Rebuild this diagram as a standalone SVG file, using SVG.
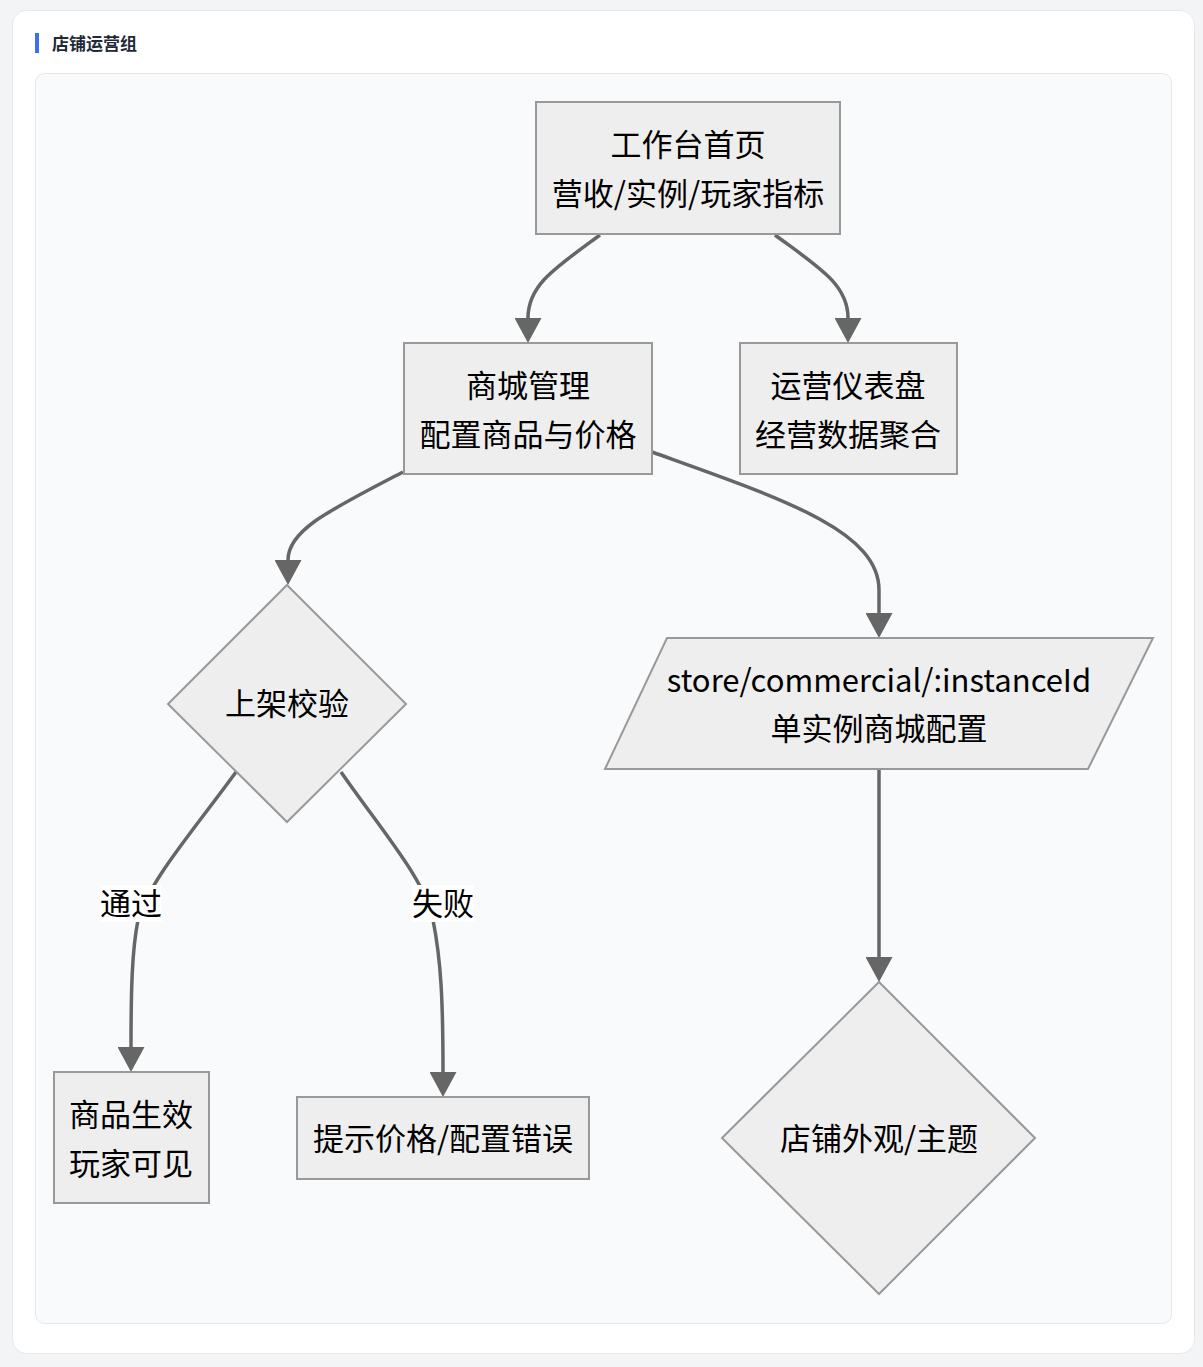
<svg xmlns="http://www.w3.org/2000/svg" width="1203" height="1367" viewBox="0 0 1203 1367">
<defs>
<style>
.node{fill:#eeeeee;stroke:#999999;stroke-width:2}
.t{font-family:"Noto Sans CJK SC","Liberation Sans",sans-serif;font-size:31px;fill:#000;text-anchor:middle}
.e{fill:none;stroke:#666666;stroke-width:3.5}
.lbl{fill:#ffffff}
</style>
<marker id="arr" viewBox="0 0 25 27" refX="0" refY="13.5" markerWidth="25" markerHeight="27" markerUnits="userSpaceOnUse" orient="auto">
<path d="M0,0 L25,13.5 L0,27 z" fill="#666666"/>
</marker>
</defs>
<rect x="0" y="0" width="1203" height="1367" fill="#f3f4f6"/>
<rect x="12.5" y="10.5" width="1182" height="1343" rx="14" fill="#ffffff" stroke="#e5e7eb"/>
<rect x="35" y="33" width="4" height="20" fill="#3b6ef5"/>
<text x="52" y="50" font-family="'Noto Sans CJK SC','Liberation Sans',sans-serif" font-size="17" font-weight="bold" fill="#1f2937">店铺运营组</text>
<rect x="35.5" y="73.5" width="1136" height="1250" rx="9" fill="#f9fafb" stroke="#e5e7eb"/>

<g id="edges">
<path class="e" d="M600,235 C555,268 528,285 528,318" marker-end="url(#arr)"/>
<path class="e" d="M775,235 C820,268 848,285 848,318" marker-end="url(#arr)"/>
<path class="e" d="M403,472 C330,510 288,530 288,560" marker-end="url(#arr)"/>
<path class="e" d="M652,452 C780,498 879,530 879,590 L879,613" marker-end="url(#arr)"/>
<path class="e" d="M236,772 C190,835 150,880 138,920 C132,950 131,990 131,1047" marker-end="url(#arr)"/>
<path class="e" d="M341,772 C385,835 425,880 433,920 C441,960 443,1000 443,1072" marker-end="url(#arr)"/>
<path class="e" d="M879,770 L879,957" marker-end="url(#arr)"/>
<rect class="lbl" x="100" y="885" width="62" height="37"/>
<text class="t" x="131" y="915">通过</text>
<rect class="lbl" x="412" y="885" width="62" height="37"/>
<text class="t" x="443" y="915">失败</text>
</g>

<g id="home">
<rect class="node" x="536" y="102" width="304" height="132"/>
<text class="t" x="688" y="156">工作台首页</text>
<text class="t" x="688" y="205">营收/实例/玩家指标</text>
</g>
<g id="mall">
<rect class="node" x="404" y="343" width="248" height="131"/>
<text class="t" x="528" y="397">商城管理</text>
<text class="t" x="528" y="446">配置商品与价格</text>
</g>
<g id="dashboard">
<rect class="node" x="740" y="343" width="217" height="131"/>
<text class="t" x="848" y="397">运营仪表盘</text>
<text class="t" x="848" y="446">经营数据聚合</text>
</g>
<g id="check">
<polygon class="node" points="287,585 406,704 287,822 168,704"/>
<text class="t" x="287" y="715">上架校验</text>
</g>
<g id="storeconfig">
<polygon class="node" points="667,638 1153,638 1088,769 605,769"/>
<text class="t" x="879" y="692">store/commercial/:instanceId</text>
<text class="t" x="879" y="740">单实例商城配置</text>
</g>
<g id="effective">
<rect class="node" x="54" y="1072" width="155" height="131"/>
<text class="t" x="131" y="1126">商品生效</text>
<text class="t" x="131" y="1175">玩家可见</text>
</g>
<g id="error">
<rect class="node" x="297" y="1097" width="292" height="82"/>
<text class="t" x="443" y="1150">提示价格/配置错误</text>
</g>
<g id="theme">
<polygon class="node" points="879,982 1035,1138 879,1294 722,1138"/>
<text class="t" x="879" y="1150">店铺外观/主题</text>
</g>
</svg>
